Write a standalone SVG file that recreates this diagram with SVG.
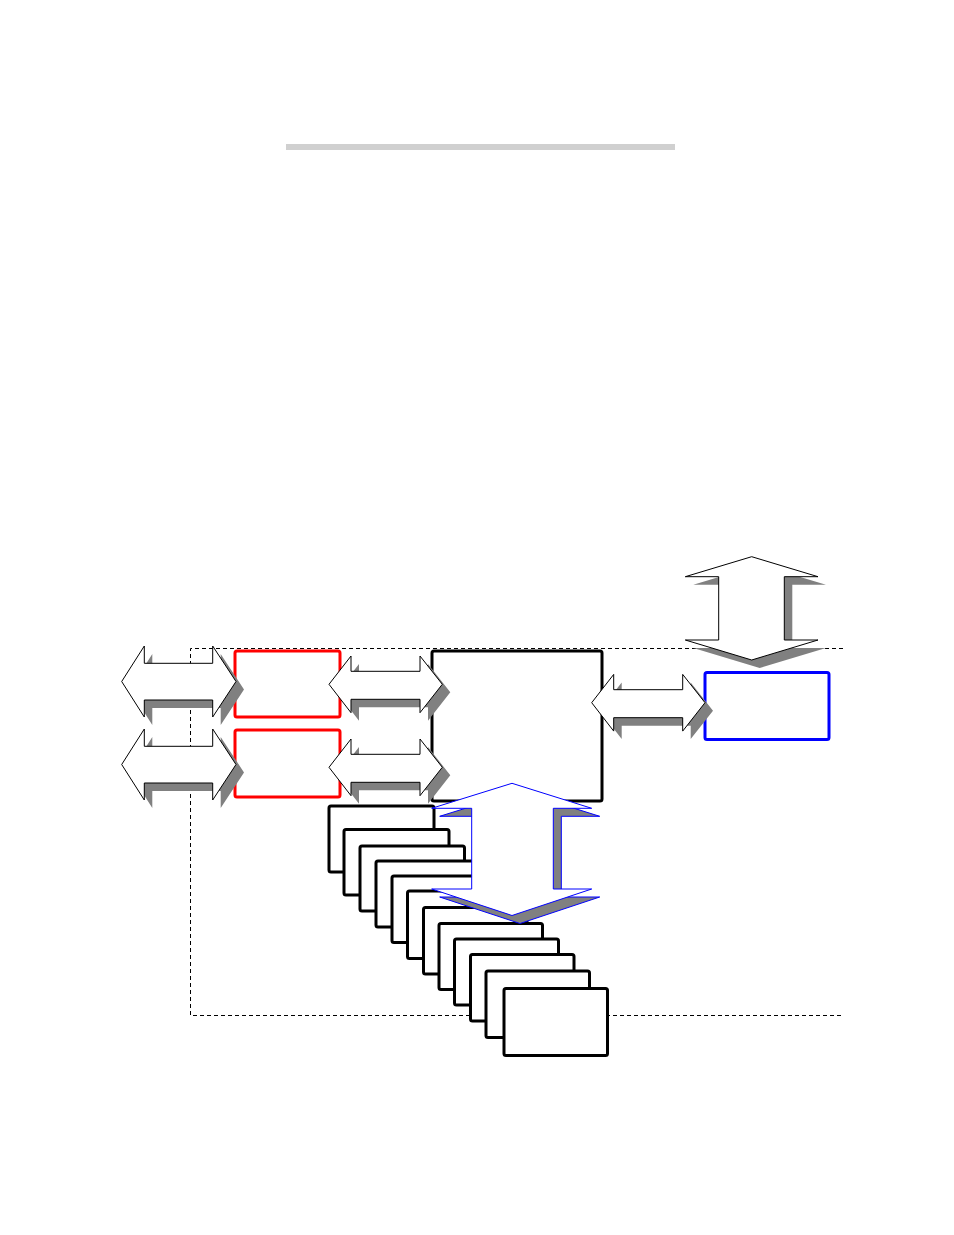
<svg xmlns="http://www.w3.org/2000/svg" width="954" height="1235" viewBox="0 0 954 1235">
<style>
.bg{fill:#ffffff}
.dash{fill:none;stroke:#000;stroke-width:1;stroke-dasharray:4,3}
.box{fill:#fff;stroke:#000;stroke-width:3}
.red{fill:#fff;stroke:#ff0000;stroke-width:3}
.blue{fill:#fff;stroke:#0000ff;stroke-width:3}
.arr{fill:#fff;stroke:#000;stroke-width:1;stroke-linejoin:miter}
.sh{fill:#808080;stroke:none}
.barr{fill:#fff;stroke:#0000ff;stroke-width:1}
.bsh{fill:#808080;stroke:#0000ff;stroke-width:1}
</style>
<defs>
<polygon id="hl" points="121.7,681.5 144.3,646 144.3,663.3 212.7,663.3 212.7,646 236,681.5 212.7,717 212.7,700 144.3,700 144.3,717"/>
<polygon id="hm" points="329,684.3 351,656 351,671.3 420,671.3 420,656 442.3,684.3 420,712.7 420,699.3 351,699.3 351,712.7"/>
</defs>
<rect class="bg" x="0" y="0" width="954" height="1235"/>
<g id="frame">
<path class="dash" d="M843,648.5 H190.5 V1015.5 H843"/>
</g>
<g id="titlebar"><rect x="286" y="144" width="389" height="6" fill="#d0d0d0"/></g>
<g id="red1"><rect class="red" x="235" y="651" width="105" height="66" rx="2"/></g>
<g id="red2"><rect class="red" x="235" y="730" width="105" height="67" rx="2"/></g>
<g id="core"><rect class="box" x="432" y="651" width="170" height="150" rx="2"/></g>
<g id="bluebox"><rect class="blue" x="705" y="672.5" width="124" height="67" rx="2"/></g>
<g id="stack">
<rect class="box" x="329" y="806" width="105" height="66" rx="2"/>
<rect class="box" x="344" y="829.5" width="105" height="65.5" rx="2"/>
<rect class="box" x="360" y="846" width="104.5" height="65" rx="2"/>
<rect class="box" x="376" y="861" width="104" height="66" rx="2"/>
<rect class="box" x="392" y="876" width="104" height="66.5" rx="2"/>
<rect class="box" x="407.5" y="891" width="103.5" height="67.5" rx="2"/>
<rect class="box" x="423.5" y="907.5" width="103.5" height="66.5" rx="2"/>
<rect class="box" x="439" y="923.5" width="103.5" height="66" rx="2"/>
<rect class="box" x="454.5" y="939" width="104" height="66" rx="2"/>
<rect class="box" x="470.5" y="954.5" width="103.5" height="66.5" rx="2"/>
<rect class="box" x="486" y="971" width="103.5" height="66.5" rx="2"/>
<rect class="box" x="504" y="988.5" width="103.5" height="67" rx="2"/>
</g>
<g id="connectors">
<g id="arrow-l1"><use href="#hl" class="sh" transform="translate(8,8)"/><use href="#hl" class="arr"/></g>
<g id="arrow-l2"><use href="#hl" class="sh" transform="translate(8,91)"/><use href="#hl" class="arr" transform="translate(0,83)"/></g>
<g id="arrow-m1"><use href="#hm" class="sh" transform="translate(8,8)"/><use href="#hm" class="arr"/></g>
<g id="arrow-m2"><use href="#hm" class="sh" transform="translate(8,91)"/><use href="#hm" class="arr" transform="translate(0,83)"/></g>
<g id="arrow-r"><use href="#hm" class="sh" transform="translate(270.7,26.4)"/><use href="#hm" class="arr" transform="translate(262.7,18.4)"/></g>
<g id="arrow-v">
<polygon class="sh" transform="translate(8,8)" points="751.7,556.7 818,576.7 784.3,576.7 784.3,640 818,640 751.7,660 685.3,640 718.7,640 718.7,576.7 685.3,576.7"/>
<polygon class="arr" points="751.7,556.7 818,576.7 784.3,576.7 784.3,640 818,640 751.7,660 685.3,640 718.7,640 718.7,576.7 685.3,576.7"/>
</g>
<g id="arrow-blue">
<polygon class="bsh" transform="translate(8,8)" points="512,783.3 591.7,808.3 553.3,808.3 553.3,889 591.7,889 512,915.5 431.7,889 471.7,889 471.7,808.3 431.7,808.3"/>
<polygon class="barr" points="512,783.3 591.7,808.3 553.3,808.3 553.3,889 591.7,889 512,915.5 431.7,889 471.7,889 471.7,808.3 431.7,808.3"/>
</g>
</g>
</svg>
